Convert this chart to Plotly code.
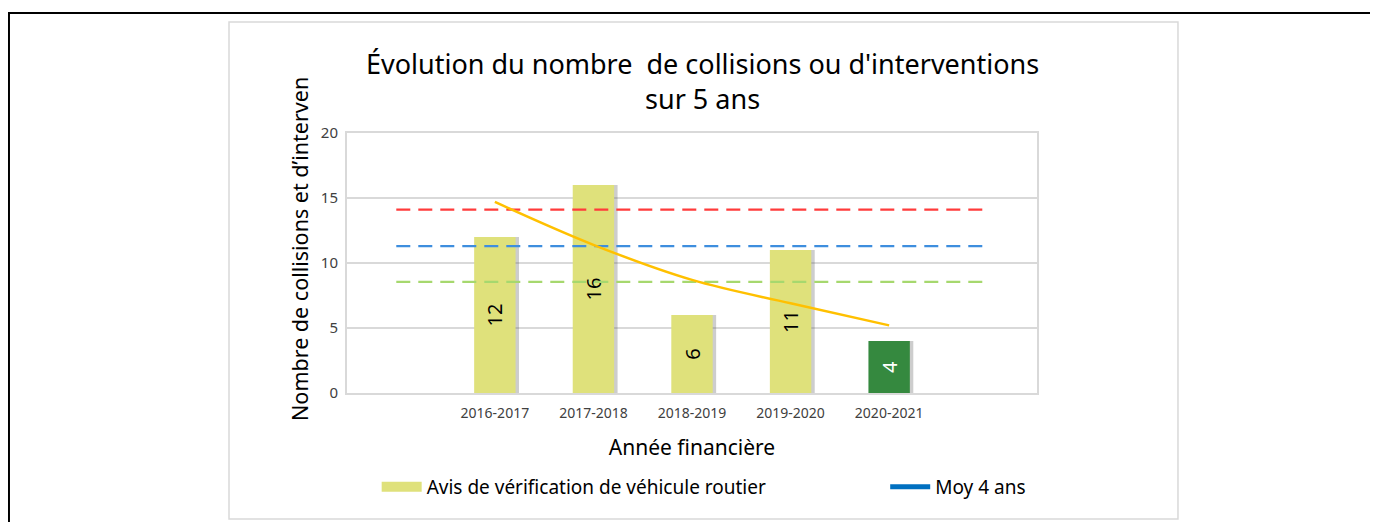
import plotly.graph_objects as go

# slots 0 and 6 are empty categories in the source chart
CATEGORIES = [" ", "2016-2017", "2017-2018", "2018-2019", "2019-2020", "2020-2021", "  "]
AVIS = [None, 12, 16, 6, 11, 4, None]
TREND = [None, 14.7, 11.4, 8.7, 6.9, 5.2, None]
UPPER = [14.1] * 7
MOY_4_ANS = [11.3] * 7
LOWER = [8.55] * 7

BAR_COLORS = ["#DFE17B"] * 5 + ["#35893F"] + ["#DFE17B"]
TEXT_COLORS = ["#000000"] * 5 + ["#FFFFFF"] + ["#000000"]
FONT = "Noto Sans"
BAR_W = 0.42

fig = go.Figure()
# soft drop shadow behind the bars
fig.add_trace(
    go.Bar(
        x=CATEGORIES,
        y=AVIS,
        width=BAR_W,
        offset=-BAR_W / 2 + 0.035,
        marker={"color": "rgba(90,90,90,0.3)", "line": {"width": 0}},
        showlegend=False,
        hoverinfo="skip",
    )
)
fig.add_trace(
    go.Bar(
        x=CATEGORIES,
        y=AVIS,
        width=BAR_W,
        offset=-BAR_W / 2,
        marker={"color": BAR_COLORS, "line": {"width": 0}},
        text=AVIS,
        textposition="inside",
        insidetextanchor="middle",
        textangle=-90,
        textfont={"color": TEXT_COLORS, "size": 20, "family": FONT},
        showlegend=False,
        hoverinfo="skip",
    )
)
for vals, color in [(UPPER, "#FF3B3B"), (MOY_4_ANS, "#3E8EDE"), (LOWER, "#A6D86E")]:
    fig.add_trace(
        go.Scatter(
            x=CATEGORIES,
            y=vals,
            mode="lines",
            line={"color": color, "width": 2.2, "dash": "14px,8px"},
            showlegend=False,
        )
    )
fig.add_trace(
    go.Scatter(
        x=CATEGORIES,
        y=TREND,
        mode="lines",
        line={"color": "#FFC000", "width": 2.5, "shape": "spline"},
        showlegend=False,
    )
)
# legend entries as drawn in the original
fig.add_trace(
    go.Scatter(x=[None], y=[None], mode="lines", name="Avis de vérification de véhicule routier",
               line={"color": "#DFE17B", "width": 10}, legend="legend")
)
fig.add_trace(
    go.Scatter(x=[None], y=[None], mode="lines", name="Moy 4 ans",
               line={"color": "#0070C0", "width": 5}, legend="legend2")
)

legend_style = {
    "orientation": "h",
    "xanchor": "left",
    "y": -0.3615,
    "yanchor": "middle",
    "font": {"size": 19, "color": "#000000", "family": FONT},
    "itemwidth": 40,
    "bgcolor": "rgba(0,0,0,0)",
}

fig.update_layout(
    width=1370,
    height=514,
    margin={"l": 339, "r": 341, "t": 125, "b": 129},
    paper_bgcolor="white",
    plot_bgcolor="white",
    font={"family": FONT, "color": "#404040"},
    barmode="overlay",
    title={
        "text": "Évolution du nombre  de collisions ou d'interventions<br>sur 5 ans",
        "x": 0.507,
        "xanchor": "center",
        "y": 0.872,
        "yanchor": "middle",
        "font": {"size": 27, "color": "#000000", "family": FONT},
    },
    legend={**legend_style, "x": 0.043},
    legend2={**legend_style, "x": 0.78},
    # axis title sits above the plot centre in the original, so it is an annotation
    annotations=[
        {"text": "Nombre de collisions et d’interven", "xref": "paper", "yref": "paper",
         "x": -0.0681, "y": 0.554, "xanchor": "center", "yanchor": "middle", "textangle": -90,
         "showarrow": False, "font": {"size": 21.5, "color": "#000000", "family": FONT}},
    ],
    shapes=[
        {"type": "rect", "xref": "paper", "yref": "paper", "x0": -0.4899, "x1": 2.0, "y0": -0.8, "y1": 1.4615,
         "line": {"color": "#000000", "width": 2}, "layer": "below"},
        {"type": "rect", "xref": "paper", "yref": "paper", "x0": -0.171, "x1": 1.2043, "y0": -0.4846, "y1": 1.4269,
         "line": {"color": "#D9D9D9", "width": 1.5}, "layer": "below"},
    ],
)
fig.update_xaxes(
    type="category",
    categoryorder="array",
    categoryarray=CATEGORIES,
    showline=True,
    mirror=True,
    linecolor="#D9D9D9",
    linewidth=2,
    ticks="",
    ticklabelstandoff=6,
    tickfont={"size": 14, "color": "#404040"},
    title={"text": "Année financière", "font": {"size": 21, "color": "#000000"}, "standoff": 20},
)
fig.update_yaxes(
    range=[0, 20],
    dtick=5,
    showline=True,
    mirror=True,
    linecolor="#D9D9D9",
    linewidth=2,
    gridcolor="#D9D9D9",
    gridwidth=2,
    zeroline=False,
    ticks="",
    ticklabelstandoff=4,
    tickfont={"size": 15, "color": "#404040"},
)

fig.write_html("out.html")
